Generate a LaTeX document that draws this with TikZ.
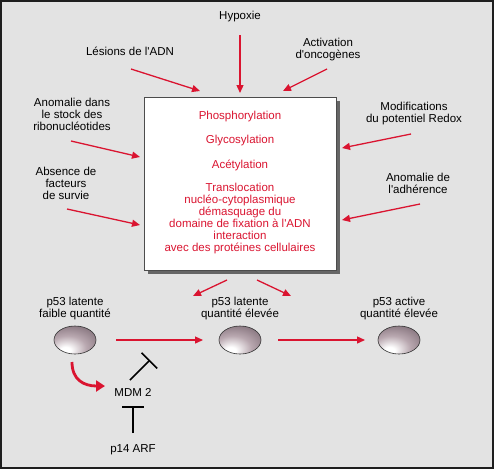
\documentclass[tikz,border=0pt]{standalone}
\usepackage{fontspec}
\setmainfont{Liberation Sans}
\usetikzlibrary{arrows.meta,shapes.geometric}
\definecolor{bg}{RGB}{227,227,227}
\definecolor{rd}{RGB}{218,20,48}
\definecolor{frm}{RGB}{30,30,30}
\definecolor{pdark}{RGB}{108,90,100}
\definecolor{pmid}{RGB}{185,168,176}
\pgfdeclareradialshading{pball}{\pgfpoint{-12bp}{-20bp}}{color(0bp)=(white); color(6bp)=(white); color(22bp)=(pmid); color(48bp)=(pdark); color(80bp)=(pdark)}
\newcommand{\apo}{\textquotesingle}
\tikzset{
  lbl/.style={font=\fontsize{11.5}{12}\selectfont, align=center, inner sep=0pt, text=black},
  rlbl/.style={lbl, text=rd},
  rarrow/.style={draw=rd, line width=1.3pt, -{Triangle[length=8pt,width=7pt]}},
  p53/.style={ellipse, draw=black!80, line width=0.6pt, minimum width=42pt, minimum height=28pt, shading=pball, inner sep=0pt},
  inhib/.style={draw=black, line width=1.7pt, -{Bar[width=22pt,line width=1.7pt]}},
}
\begin{document}
\begin{tikzpicture}[x=1pt,y=-1pt]
\useasboundingbox (0,0) rectangle (494,469);
\fill[bg] (0,0) rectangle (494,469);
\draw[frm, line width=2.2pt] (1,1) rectangle (493,468);
% box with shadow
\fill[black!60] (148,101) rectangle (340,274);
\node[draw=black!70, fill=white, line width=0.6pt, anchor=north west, minimum width=192pt, minimum height=173pt, inner sep=0pt] (box) at (144,97) {};
% box texts
\node[rlbl] (phos) at (240,117) {Phosphorylation};
\node[rlbl] (glyc) at (240,141) {Glycosylation};
\node[rlbl] (acet) at (240,165) {Acétylation};
\node[rlbl] (trans) at (240,219) {Translocation\\nucléo-cytoplasmique\\démasquage du\\domaine de fixation à l\apo ADN\\interaction\\avec des protéines cellulaires};
% outer labels
\node[lbl] (hyp) at (240,17) {Hypoxie};
\node[lbl] (les) at (130,51) {Lésions de l\apo ADN};
\node[lbl] (act) at (328,50) {Activation\\d\apo oncogènes};
\node[lbl] (ano) at (72,114) {Anomalie dans\\le stock des\\ribonucléotides};
\node[lbl] (mod) at (414,114) {Modifications\\du potentiel Redox};
\node[lbl] (abs) at (66,183) {Absence de\\facteurs\\de survie};
\node[lbl] (adh) at (418,183) {Anomalie de\\l\apo adhérence};
% arrow endpoints
\coordinate (hypS) at (240,35);   \coordinate (hypE) at (240,93);
\coordinate (lesS) at (131,69);   \coordinate (lesE) at (200,91);
\coordinate (actS) at (327,69);   \coordinate (actE) at (283,91);
\coordinate (anoS) at (71,141);   \coordinate (anoE) at (140,157);
\coordinate (modS) at (411,134);  \coordinate (modE) at (342,148);
\coordinate (absS) at (67,209);   \coordinate (absE) at (140,225);
\coordinate (adhS) at (420,204);  \coordinate (adhE) at (342,220);
\coordinate (d1S) at (227,280);   \coordinate (d1E) at (193,296);
\coordinate (d2S) at (257,280);   \coordinate (d2E) at (291,296);
\draw[rarrow] (hypS) -- (hypE);
\draw[rarrow] (lesS) -- (lesE);
\draw[rarrow] (actS) -- (actE);
\draw[rarrow] (anoS) -- (anoE);
\draw[rarrow] (modS) -- (modE);
\draw[rarrow] (absS) -- (absE);
\draw[rarrow] (adhS) -- (adhE);
\draw[rarrow] (d1S) -- (d1E);
\draw[rarrow] (d2S) -- (d2E);
% p53 row
\node[lbl] (l1) at (75,309) {p53 latente\\faible quantité};
\node[lbl] (l2) at (240,309) {p53 latente\\quantité élevée};
\node[lbl] (l3) at (399,309) {p53 active\\quantité élevée};
\node[p53] (e1) at (75,340) {};
\node[p53] (e2) at (240,340) {};
\node[p53] (e3) at (399,340) {};
\coordinate (h1S) at (116,340); \coordinate (h1E) at (203,340);
\coordinate (h2S) at (278,340); \coordinate (h2E) at (365,340);
\draw[rarrow] (h1S) -- (h1E);
\draw[rarrow] (h2S) -- (h2E);
% MDM2
\node[lbl] (mdm) at (133,392) {MDM 2};
\node[lbl] (arf) at (133,450) {p14 ARF};
\coordinate (cS) at (72,362);
\coordinate (cE) at (105,386);
\draw[draw=rd, line width=2.8pt, -{Triangle[length=9pt,width=11pt]}] (cS) .. controls (72,380) and (84,386) .. (cE);
\coordinate (iS) at (130,380); \coordinate (iE) at (150,360);
\draw[inhib] (iS) -- (iE);
\coordinate (pS) at (133,433); \coordinate (pE) at (133,406);
\draw[inhib] (pS) -- (pE);
\end{tikzpicture}
\end{document}
